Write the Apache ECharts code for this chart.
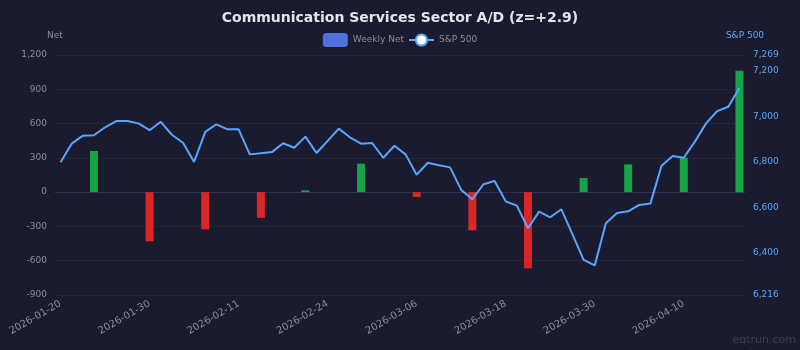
<!DOCTYPE html>
<html>
<head>
<meta charset="utf-8">
<script src="https://cdn.jsdelivr.net/npm/echarts@6/dist/echarts.min.js"></script>
<style>
html,body{margin:0;padding:0;background:#1a1b2e;}
#c{width:800px;height:350px;}
</style>
</head>
<body>
<div id="c"></div>
<script>
const titleText = 'Communication Services Sector A/D (z=+2.9)';
const dates = ['2026-01-20','2026-01-21','2026-01-22','2026-01-23','2026-01-26','2026-01-27','2026-01-28','2026-01-29','2026-01-30',
'2026-02-02','2026-02-03','2026-02-04','2026-02-05','2026-02-06','2026-02-09','2026-02-10','2026-02-11','2026-02-12','2026-02-13',
'2026-02-17','2026-02-18','2026-02-19','2026-02-20','2026-02-23','2026-02-24','2026-02-25','2026-02-26','2026-02-27',
'2026-03-02','2026-03-03','2026-03-04','2026-03-05','2026-03-06','2026-03-09','2026-03-10','2026-03-11','2026-03-12','2026-03-13',
'2026-03-16','2026-03-17','2026-03-18','2026-03-19','2026-03-20','2026-03-23','2026-03-24','2026-03-25','2026-03-26','2026-03-27',
'2026-03-30','2026-03-31','2026-04-01','2026-04-02','2026-04-06','2026-04-07','2026-04-08','2026-04-09','2026-04-10',
'2026-04-13','2026-04-14','2026-04-15','2026-04-16','2026-04-17'];
const spx = [6798,6880,6915,6917,6952,6979,6979,6969,6939,6976,6919,6884,6800,6932,6965,6943,6943,6833,6838,6843,
6882,6862,6911,6839,6892,6946,6908,6880,6883,6818,6871,6833,6744,6796,6785,6776,6677,6636,6702,6716,
6627,6608,6509,6582,6557,6592,6482,6370,6346,6531,6576,6583,6611,6617,6783,6826,6818,6889,6969,7023,7042,7124];
const weekDates = ['2026-01-23','2026-01-30','2026-02-06','2026-02-13','2026-02-20','2026-02-27','2026-03-06','2026-03-13','2026-03-20','2026-03-27','2026-04-02','2026-04-10','2026-04-17'];
const weekNet = [360,-430,-326,-224,16,249,-42,-334,-667,123,243,301,1062];
const netTicks = {min:-900,max:1200,interval:300};
const spxRange = {min:6216,max:7269};

const netData = dates.map(d => {
  const k = weekDates.indexOf(d);
  if (k < 0) return null;
  const v = weekNet[k];
  return {value: v, itemStyle: {color: v >= 0 ? '#16a34a' : '#dc2626'}};
});

const chart = echarts.init(document.getElementById('c'), null, {renderer:'canvas'});
const grey = '#8b8d9c';
const blue = '#58a6ff';
chart.setOption({
  backgroundColor: '#1a1b2e',
  textStyle: {fontFamily: 'DejaVu Sans'},
  title: {text: titleText, left: 'center', top: 6,
    textStyle: {color: '#e4e4ea', fontSize: 14, fontWeight: 'bold', fontFamily: 'DejaVu Sans'}},
  legend: {top: 28, left: 'center', itemGap: 4, itemWidth: 25, itemHeight: 14,
    textStyle: {color: grey, fontSize: 9},
    data: [{name: 'Weekly Net', itemStyle: {color: '#5070dd'}}, {name: 'S&P 500'}]},
  grid: {left: 55, right: 55, top: 55, bottom: 55},
  xAxis: {type: 'category', data: dates, boundaryGap: true,
    axisLine: {lineStyle: {color: '#2f3152'}}, axisTick: {show: false},
    axisLabel: {color: grey, fontSize: 10, rotate: 30, interval: 7}},
  yAxis: [
    {type: 'value', name: 'Net', min: netTicks.min, max: netTicks.max, interval: netTicks.interval,
      nameTextStyle: {color: grey, fontSize: 9},
      axisLine: {show: false}, axisTick: {show: false},
      axisLabel: {color: grey, fontSize: 9},
      splitLine: {lineStyle: {color: '#23253a'}}},
    {type: 'value', name: 'S&P 500', min: spxRange.min, max: spxRange.max, position: 'right',
      nameTextStyle: {color: blue, fontSize: 9},
      axisLine: {show: false}, axisTick: {show: false},
      axisLabel: {color: blue, fontSize: 9},
      splitLine: {show: false}}
  ],
  series: [
    {name: 'Weekly Net', type: 'bar', data: netData, barWidth: 8, yAxisIndex: 0, color: '#5070dd'},
    {name: 'S&P 500', type: 'line', data: spx, yAxisIndex: 1, showSymbol: false, symbol: 'emptyCircle',
      color: blue, lineStyle: {color: blue, width: 2}, itemStyle: {color: blue}}
  ],
  graphic: [{type: 'text', right: 4, bottom: 4,
    style: {text: 'eqtrun.com', fill: '#3a3d55', fontSize: 11, fontFamily: 'DejaVu Sans'}}],
  animation: false
});
</script>
</body>
</html>
